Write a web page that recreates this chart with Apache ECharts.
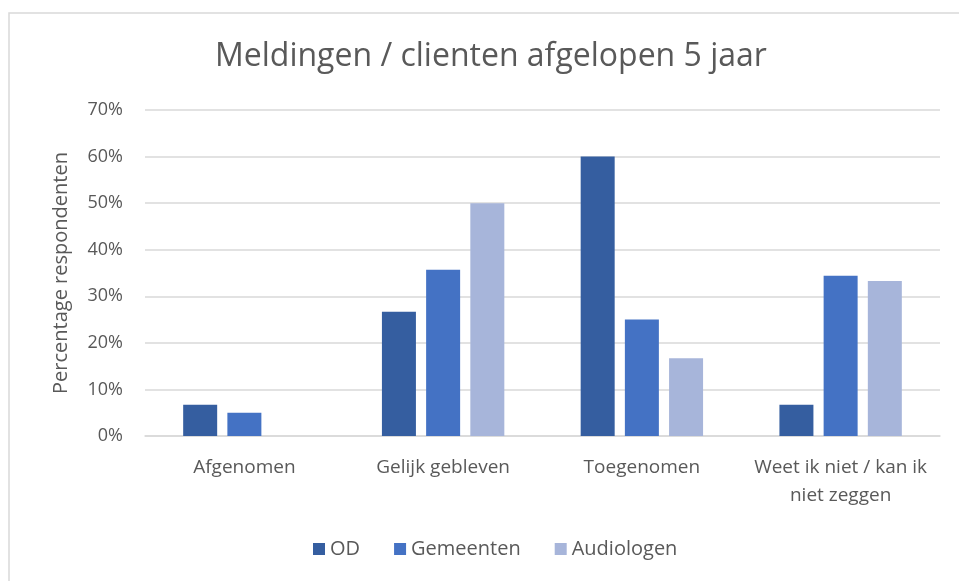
<!DOCTYPE html>
<html>
<head>
<meta charset="utf-8">
<script src="https://cdn.jsdelivr.net/npm/echarts@6/dist/echarts.min.js"></script>
<style>
html,body{margin:0;padding:0;background:#fff;}
#main{width:959px;height:581px;}
</style>
</head>
<body>
<div id="main"></div>
<script>
const categories = ['Afgenomen', 'Gelijk gebleven', 'Toegenomen', 'Weet ik niet / kan ik\nniet zeggen'];
const seriesNames = ['OD', 'Gemeenten', 'Audiologen'];
const odValues = [6.7, 26.7, 60.0, 6.7];
const gemeentenValues = [5.0, 35.7, 25.0, 34.4];
const audiologenValues = [0, 50.0, 16.7, 33.3];
const yTicks = [0, 10, 20, 30, 40, 50, 60, 70];
const colors = ['#355ea0', '#4472c4', '#a7b5da'];

const chart = echarts.init(document.getElementById('main'), null, {renderer: 'canvas'});
const font = 'Open Sans';
const mkSeries = (name, data, color) => ({
  name: name, type: 'bar', data: data, barWidth: 34, barGap: '30%',
  itemStyle: {color: color, borderWidth: 0}
});
chart.setOption({
  animation: false,
  backgroundColor: '#fff',
  graphic: [{type: 'rect', shape: {x: 9, y: 13, width: 1000, height: 700}, style: {fill: 'none', stroke: '#d9d9d9', lineWidth: 1.5}, z: -1}],
  title: {text: 'Meldingen / clienten afgelopen 5 jaar', left: 210, top: 36,
    textStyle: {fontFamily: font, fontSize: 32, fontWeight: 'normal', color: '#595959'}},
  grid: {left: 145, right: 19, top: 110, bottom: 145},
  legend: {data: seriesNames, bottom: 17, left: 308, itemWidth: 12, itemHeight: 12, itemGap: 34, icon: 'rect',
    textStyle: {fontFamily: font, fontSize: 20, color: '#595959'}},
  xAxis: {type: 'category', data: categories,
    axisLine: {lineStyle: {color: '#d9d9d9', width: 1.5}}, axisTick: {show: false},
    axisLabel: {interval: 0, fontFamily: font, fontSize: 19, color: '#595959', margin: 18, lineHeight: 28}},
  yAxis: {type: 'value', min: 0, max: 70, interval: 10,
    name: 'Percentage respondenten', nameLocation: 'middle', nameGap: 74, nameRotate: 90,
    nameTextStyle: {fontFamily: font, fontSize: 20, color: '#595959'},
    axisLabel: {fontFamily: font, fontSize: 18, color: '#595959', margin: 22,
      formatter: v => yTicks.includes(v) ? v + '%' : ''},
    splitLine: {lineStyle: {color: '#d9d9d9', width: 1.5}}, axisLine: {show: false}, axisTick: {show: false}},
  series: [mkSeries(seriesNames[0], odValues, colors[0]), mkSeries(seriesNames[1], gemeentenValues, colors[1]), mkSeries(seriesNames[2], audiologenValues, colors[2])]
});
</script>
</body>
</html>
